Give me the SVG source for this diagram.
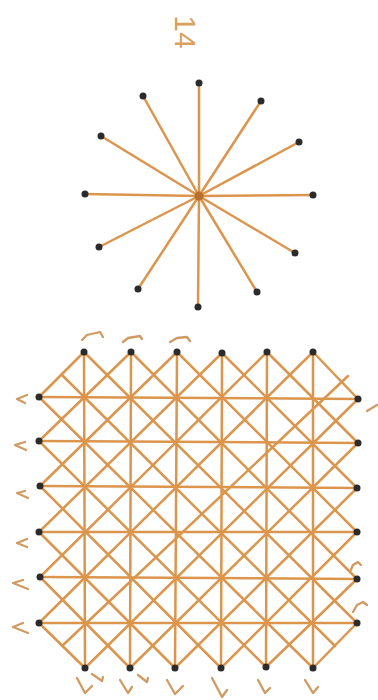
<svg xmlns="http://www.w3.org/2000/svg" width="378" height="700" viewBox="0 0 378 700">
<style>
.s{stroke:#dc954c;stroke-width:2.5;stroke-linecap:round;fill:none}
.d{fill:#2b2b2b}
.m{stroke:#cf9b62;stroke-width:2.3;stroke-linecap:round;stroke-linejoin:round;fill:none}
.t{font-family:"Liberation Sans",Arial,sans-serif;font-size:30px;fill:#d9a15c}
</style>
<rect width="378" height="700" fill="#ffffff"/>
<g id="label">
<text class="t" transform="translate(185,32) rotate(90)" text-anchor="middle" dominant-baseline="central">14</text>
</g>
<g id="connectors">
<g id="star-lines" class="s">
<line x1="199" y1="196" x2="199" y2="83"/>
<line x1="199" y1="196" x2="143" y2="96"/>
<line x1="199" y1="196" x2="261" y2="101"/>
<line x1="199" y1="196" x2="101" y2="136"/>
<line x1="199" y1="196" x2="299" y2="142"/>
<line x1="199" y1="196" x2="85" y2="194"/>
<line x1="199" y1="196" x2="313" y2="195"/>
<line x1="199" y1="196" x2="99" y2="247"/>
<line x1="199" y1="196" x2="295" y2="253"/>
<line x1="199" y1="196" x2="138" y2="289"/>
<line x1="199" y1="196" x2="257" y2="292"/>
<line x1="199" y1="196" x2="198" y2="307"/>
</g>
<g id="grid-lines" class="s">
<line x1="84" y1="352" x2="85" y2="668"/>
<line x1="131" y1="352" x2="130" y2="668"/>
<line x1="177" y1="352" x2="175" y2="668"/>
<line x1="222" y1="353" x2="221" y2="668"/>
<line x1="267" y1="352" x2="266" y2="667"/>
<line x1="313" y1="352" x2="313" y2="668"/>
<line x1="39" y1="397" x2="358" y2="399"/>
<line x1="39" y1="441" x2="358" y2="443"/>
<line x1="40" y1="486" x2="357" y2="488"/>
<line x1="39" y1="532" x2="357" y2="532"/>
<line x1="40" y1="577" x2="357" y2="579"/>
<line x1="39" y1="623" x2="357" y2="623"/>
<line x1="84" y1="352" x2="39" y2="397"/>
<line x1="131" y1="352" x2="39" y2="441"/>
<line x1="177" y1="352" x2="40" y2="486"/>
<line x1="222" y1="353" x2="39" y2="532"/>
<line x1="267" y1="352" x2="40" y2="577"/>
<line x1="313" y1="352" x2="39" y2="623"/>
<line x1="84" y1="352" x2="357" y2="623"/>
<line x1="131" y1="352" x2="357" y2="579"/>
<line x1="177" y1="352" x2="357" y2="532"/>
<line x1="222" y1="353" x2="357" y2="488"/>
<line x1="267" y1="352" x2="358" y2="443"/>
<line x1="313" y1="352" x2="358" y2="399"/>
<line x1="39" y1="397" x2="313" y2="668"/>
<line x1="39" y1="441" x2="266" y2="667"/>
<line x1="40" y1="486" x2="221" y2="668"/>
<line x1="39" y1="532" x2="175" y2="668"/>
<line x1="40" y1="577" x2="130" y2="668"/>
<line x1="39" y1="623" x2="85" y2="668"/>
<line x1="85" y1="668" x2="358" y2="399"/>
<line x1="130" y1="668" x2="358" y2="443"/>
<line x1="175" y1="668" x2="357" y2="488"/>
<line x1="221" y1="668" x2="357" y2="532"/>
<line x1="266" y1="667" x2="357" y2="579"/>
<line x1="313" y1="668" x2="357" y2="623"/>
<line x1="62" y1="375" x2="335" y2="646"/>
<line x1="348" y1="376" x2="62" y2="646"/>
</g>
</g>
<g id="star-center"><circle cx="199" cy="196" r="4.5" fill="#b8702c"/></g>
<g id="star-dots" class="d">
<circle cx="199" cy="83" r="3.5"/>
<circle cx="143" cy="96" r="3.5"/>
<circle cx="261" cy="101" r="3.5"/>
<circle cx="101" cy="136" r="3.5"/>
<circle cx="299" cy="142" r="3.5"/>
<circle cx="85" cy="194" r="3.5"/>
<circle cx="313" cy="195" r="3.5"/>
<circle cx="99" cy="247" r="3.5"/>
<circle cx="295" cy="253" r="3.5"/>
<circle cx="138" cy="289" r="3.5"/>
<circle cx="257" cy="292" r="3.5"/>
<circle cx="198" cy="307" r="3.5"/>
</g>
<g id="grid-dots" class="d">
<circle cx="84" cy="352" r="3.5"/>
<circle cx="131" cy="352" r="3.5"/>
<circle cx="177" cy="352" r="3.5"/>
<circle cx="222" cy="353" r="3.5"/>
<circle cx="267" cy="352" r="3.5"/>
<circle cx="313" cy="352" r="3.5"/>
<circle cx="39" cy="397" r="3.5"/>
<circle cx="39" cy="441" r="3.5"/>
<circle cx="40" cy="486" r="3.5"/>
<circle cx="39" cy="532" r="3.5"/>
<circle cx="40" cy="577" r="3.5"/>
<circle cx="39" cy="623" r="3.5"/>
<circle cx="358" cy="399" r="3.5"/>
<circle cx="358" cy="443" r="3.5"/>
<circle cx="357" cy="488" r="3.5"/>
<circle cx="357" cy="532" r="3.5"/>
<circle cx="357" cy="579" r="3.5"/>
<circle cx="357" cy="623" r="3.5"/>
<circle cx="85" cy="668" r="3.5"/>
<circle cx="130" cy="668" r="3.5"/>
<circle cx="175" cy="668" r="3.5"/>
<circle cx="221" cy="668" r="3.5"/>
<circle cx="266" cy="667" r="3.5"/>
<circle cx="313" cy="668" r="3.5"/>
</g>
<g id="marks" class="m">
<polyline points="82,340 87,335 100,332 103,337"/>
<polyline points="123,342 128,338 140,336 142,339"/>
<polyline points="170,342 177,338 187,337 190,341"/>
<polyline points="27,395 17,399 25,403"/>
<polyline points="25,442 15,445 26,450"/>
<polyline points="25,491 17,493 28,498"/>
<polyline points="27,539 17,543 27,547"/>
<polyline points="23,580 13,583 28,589"/>
<polyline points="23,623 13,627 28,633"/>
<line x1="367" y1="411" x2="377" y2="405"/>
<polyline points="350,572 353,565 358,562 361,565"/>
<polyline points="353,612 357,605 363,602 367,605"/>
<polyline points="77,678 85,693 92,686"/>
<polyline points="92,674 102,681 103,677"/>
<polyline points="120,680 128,693 132,687"/>
<polyline points="138,675 147,682 148,678"/>
<polyline points="167,680 175,694 183,686"/>
<polyline points="212,678 222,697 227,690"/>
<polyline points="258,680 265,693 270,688"/>
<polyline points="305,680 313,693 318,687"/>
</g>
</svg>
